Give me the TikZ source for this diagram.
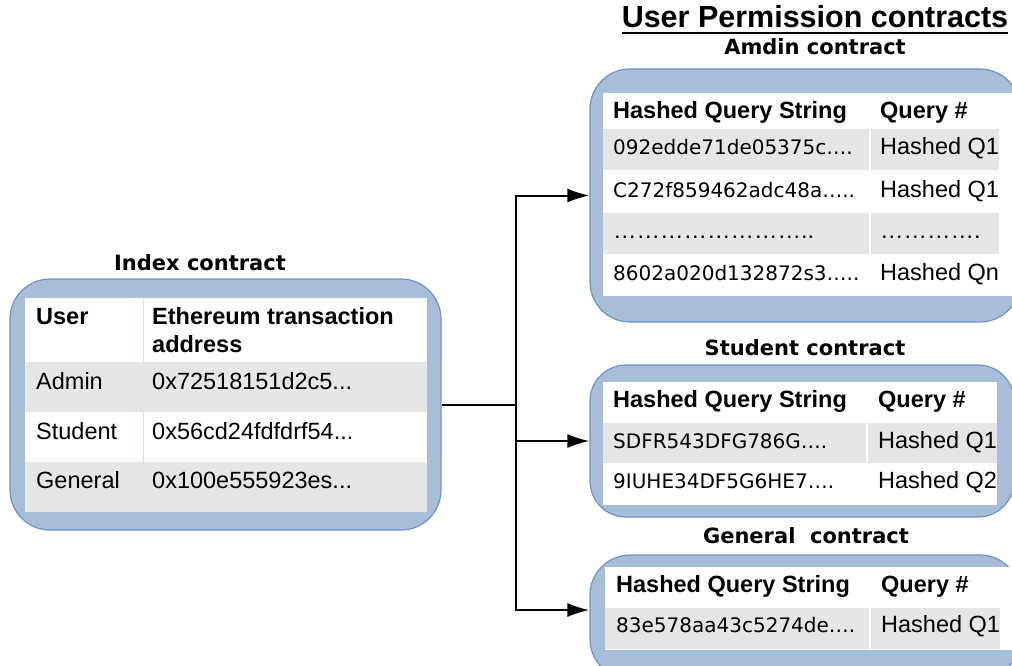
\documentclass[tikz,border=0pt]{standalone}
\usepackage{fontspec}
\setmainfont{Liberation Sans}
\newfontfamily\dvs{DejaVu Sans}
\usetikzlibrary{arrows.meta}

\definecolor{panel}{HTML}{A8BDD7}
\definecolor{panelrim}{HTML}{7194C2}
\definecolor{rowgray}{HTML}{E6E6E6}
\definecolor{colrule}{HTML}{DCE5EF}

\tikzset{
  panelbox/.style={draw=panelrim, line width=1.2pt, fill=panel,
    rounded corners=40pt, inner sep=0pt},
  cell/.style={anchor=base west, inner sep=0pt,
    font=\fontsize{23.5}{26}\selectfont},
  headcell/.style={cell, font=\fontsize{23.5}{26}\selectfont\bfseries},
  hashcell/.style={anchor=base west, inner sep=0pt,
    font=\dvs\fontsize{20}{24}\selectfont},
  caption/.style={anchor=base, inner sep=0pt,
    font=\dvs\fontsize{21}{24}\selectfont\bfseries},
  conn/.style={line width=2pt, -{Latex[length=22pt,width=14pt]}},
  link/.style={line width=2pt},
}

\begin{document}
\begin{tikzpicture}[x=1pt,y=-1pt]
\clip (0,0) rectangle (1012,666);
\fill[white] (0,0) rectangle (1012,666);

% ---------- headings ----------
\node[anchor=base, inner sep=0pt, font=\fontsize{30.5}{34}\selectfont\bfseries]
  (title) at (815,28) {User Permission contracts};
\draw[line width=2pt] ([yshift=-5pt]title.base west) -- ([yshift=-5pt]title.base east);
\node[caption] (capadmin) at (815,55) {Amdin contract};
\node[caption] (capindex) at (200,270) {Index contract};
\node[caption] (capstudent) at (805,355) {Student contract};
\node[caption] (capgeneral) at (806,543) {General\ \ contract};

% ---------- panels ----------
\node[panelbox, minimum width=431pt, minimum height=251pt] (idx) at (225.5,404.5) {};
\node[panelbox, minimum width=430pt, minimum height=253pt] (adm) at (805,195.5) {};
\node[panelbox, minimum width=424pt, minimum height=152pt, rounded corners=36pt] (stu) at (802,441) {};
\node[panelbox, minimum width=430pt, minimum height=124pt] (gen) at (805,617) {};

% ---------- index table ----------
\fill[white] (25,298) rectangle (427,512);
\fill[rowgray] (25,362) rectangle (427,412);
\fill[rowgray] (25,462) rectangle (427,512);
\draw[colrule, line width=0.8pt] (143,298) -- (143,512);
\node[headcell] (ih1) at (36,324) {User};
\node[headcell] (ih2) at (152,324) {Ethereum transaction};
\node[headcell] (ih3) at (152,352) {address};
\node[cell] (ia1) at (36,389) {Admin};
\node[cell] (ia2) at (152,389) {0x72518151d2c5...};
\node[cell] (ib1) at (36,439) {Student};
\node[cell] (ib2) at (152,439) {0x56cd24fdfdrf54...};
\node[cell] (ic1) at (36,488) {General};
\node[cell] (ic2) at (152,488) {0x100e555923es...};

% ---------- admin table ----------
\fill[white] (603,93) rectangle (1012,296);
\fill[rowgray] (603,129) rectangle (999,170);
\fill[rowgray] (603,213) rectangle (999,254);
\draw[white, line width=2pt] (870,129) -- (870,254);
\node[headcell] (ah1) at (613,119) {Hashed Query String};
\node[headcell] (ah2) at (880,119) {Query \#};
\node[hashcell] (aa1) at (613,154) {092edde71de05375c….};
\node[cell] (aa2) at (880,154) {Hashed Q1};
\node[hashcell] (ab1) at (613,197) {C272f859462adc48a…..};
\node[cell] (ab2) at (880,197) {Hashed Q1};
\node[cell] (ac1) at (613,238) {……………………..};
\node[cell] (ac2) at (880,238) {………….};
\node[hashcell] (ad1) at (613,280) {8602a020d132872s3…..};
\node[cell] (ad2) at (880,280) {Hashed Qn};

% ---------- student table ----------
\fill[white] (603,382) rectangle (997,505);
\fill[rowgray] (603,423) rectangle (997,463);
\draw[white, line width=2pt] (867,423) -- (867,463);
\node[headcell] (sh1) at (613,407) {Hashed Query String};
\node[headcell] (sh2) at (878,407) {Query \#};
\node[hashcell] (sa1) at (613,448) {SDFR543DFG786G….};
\node[cell] (sa2) at (878,448) {Hashed Q1};
\node[hashcell] (sb1) at (613,488) {9IUHE34DF5G6HE7….};
\node[cell] (sb2) at (878,488) {Hashed Q2};

% ---------- general table ----------
\fill[white] (605,567) rectangle (1012,650);
\fill[rowgray] (605,608) rectangle (1000,649);
\draw[white, line width=2pt] (870,608) -- (870,649);
\node[headcell] (gh1) at (616,592) {Hashed Query String};
\node[headcell] (gh2) at (881,592) {Query \#};
\node[hashcell] (ga1) at (616,632) {83e578aa43c5274de….};
\node[cell] (ga2) at (881,632) {Hashed Q1};

% ---------- connectors ----------
\coordinate (split) at (516,404.5);
\draw[link] (idx.east) -- (split);
\draw[conn] (split) |- (adm.west);
\draw[conn] (split) |- (stu.west);
\draw[conn] (split) |- ([yshift=7pt]gen.west);
\end{tikzpicture}
\end{document}
